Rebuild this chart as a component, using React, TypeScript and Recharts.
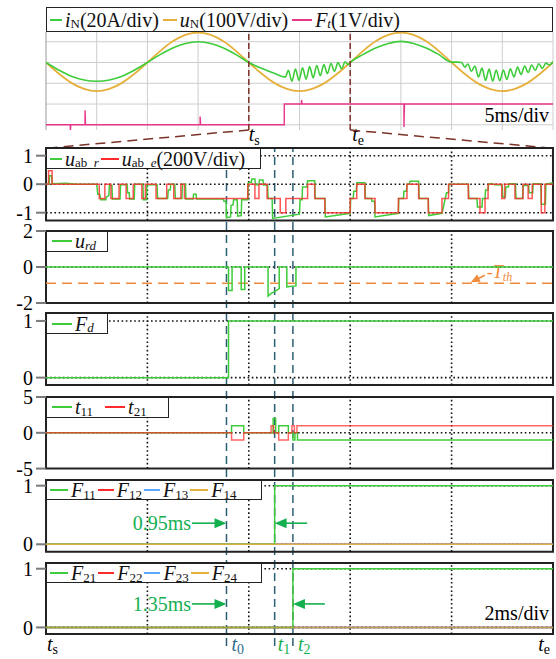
import React from 'react'
import { LineChart, Line, XAxis, YAxis, ReferenceLine, ReferenceArea } from 'recharts'

const SERIF = '"Liberation Serif", "Times New Roman", Times, serif'
const W = 556
const AXIS_W = 46
const RIGHT = 3

const GREEN = '#3fcc3a'
const RED = '#ff2a2a'
const BLUE = '#5aa8ff'
const GOLD = '#e6b03c'
const PINK = '#e8368a'
const TH_ORANGE = '#f08a3c'
const ARROW_GREEN = '#14b050'
const MARK_BLUE = '#2d5f74'
const MAROON = '#7a3328'

type Pt = [number, number]
const rows = (pts: Pt[]) => pts.map(([t, v]) => ({ t, v }))

// ---------- overview scope trace (ms, divisions) ----------
const SCOPE_GRID_T = [0, 5, 10, 15, 20, 25, 30, 35, 40, 45, 50]
const SCOPE_GRID_V = [1, 0, -1, -2, -3]
const SCOPE_DOMAIN: [number, number] = [-3.25, 1.47]
const TS = 20
const TE = 30
const ZOOM_Y = -4.13 // top edge of the zoomed panels, in overview divisions

const uN: Pt[] = [
  [0, 0], [1.25, -0.53], [2.5, -0.98], [3.75, -1.27], [5, -1.38], [6.25, -1.27], [7.5, -0.98], [8.75, -0.53],
  [10, 0], [11.25, 0.55], [12.5, 1.02], [13.75, 1.33], [15, 1.44], [16.25, 1.33], [17.5, 1.02], [18.75, 0.55],
  [20, 0], [21.25, -0.53], [22.5, -0.98], [23.75, -1.27], [25, -1.38], [26.25, -1.27], [27.5, -0.98], [28.75, -0.53],
  [30, 0], [31.25, 0.55], [32.5, 1.02], [33.75, 1.33], [35, 1.44], [36.25, 1.33], [37.5, 1.02], [38.75, 0.55],
  [40, 0], [41.25, -0.53], [42.5, -0.98], [43.75, -1.27], [45, -1.38], [46.25, -1.27], [47.5, -0.98], [48.75, -0.53],
  [50, 0],
]

const iN: Pt[] = [
  [0, 0], [1.25, -0.36], [2.5, -0.66], [3.75, -0.84], [5, -0.9], [6.25, -0.84], [7.5, -0.66], [8.75, -0.36],
  [10, 0], [11.25, 0.38], [12.5, 0.7], [13.75, 0.92], [15, 1.0], [16.25, 0.92], [17.5, 0.7], [18.75, 0.38],
  [20, 0], [21.25, -0.28], [22.5, -0.52], [23.6, -0.7],
  [23.9, -0.38], [24.25, -0.9], [24.6, -0.32], [24.95, -0.86], [25.3, -0.25], [25.65, -0.8], [26.0, -0.2],
  [26.35, -0.74], [26.7, -0.14], [27.05, -0.64], [27.4, -0.1], [27.75, -0.54], [28.1, -0.05], [28.45, -0.42],
  [28.8, 0.0], [29.15, -0.3], [29.5, 0.03], [29.8, -0.1], [30, 0],
  [31.25, 0.38], [32.5, 0.7], [33.75, 0.92], [35, 1.02], [36.25, 0.92], [37.5, 0.7], [38.75, 0.38],
  [40, 0.02], [40.6, 0.02], [41, 0],
  [41.3, -0.22], [41.6, -0.07], [41.95, -0.42], [42.3, -0.17], [42.65, -0.7], [43.0, -0.27], [43.35, -0.86],
  [43.7, -0.32], [44.05, -0.9], [44.4, -0.36], [44.75, -0.88], [45.1, -0.36], [45.45, -0.82], [45.8, -0.3],
  [46.15, -0.7], [46.5, -0.22], [46.85, -0.58], [47.2, -0.17], [47.55, -0.48], [47.9, -0.12], [48.25, -0.38],
  [48.6, -0.06], [48.95, -0.28], [49.3, -0.03], [49.65, -0.12], [50, 0.05],
]

const Ft: Pt[] = [
  [0, -3], [2.4, -3], [2.4, -3.3], [2.45, -3], [3.85, -3], [3.85, -2.3], [3.9, -3], [15.2, -3], [15.2, -2.6],
  [15.25, -3], [23.5, -3], [23.5, -2], [25.2, -2], [25.2, -1.8], [25.25, -2], [35.3, -2], [35.3, -3.1],
  [35.35, -2], [50, -2],
]

// ---------- zoomed panels (ms from ts) ----------
const GRID_T = [2, 4, 6, 8]
const T0 = 3.56
const T1 = 4.51
const T2 = 4.87

const uabE: Pt[] = [
  [0, 0], [0.05, 0.47], [0.12, 0], [1.05, -0.5], [1.16, 0], [1.28, -0.5], [1.44, 0], [1.58, -0.5], [1.72, 0],
  [1.89, -0.5], [1.96, 0], [2.17, -0.5], [2.38, 0], [2.52, -0.5], [2.66, 0], [2.73, -0.5], [3.98, 0],
  [4.12, -0.5], [4.2, 0], [4.36, -0.5], [4.62, -1], [4.73, -0.5], [5.16, 0], [5.3, -0.5], [5.5, -1],
  [6.0, -0.5], [6.13, 0], [6.29, -0.5], [6.49, -1], [6.95, -0.5], [7.12, 0], [7.35, -0.5], [7.54, -1],
  [7.81, -0.5], [7.94, 0], [8.33, -0.5], [8.56, -1], [8.66, -0.5], [8.72, 0], [8.99, -0.5], [9.05, 0],
  [9.25, -0.5], [9.41, 0], [9.51, -0.5], [9.59, 0], [9.77, -1], [9.84, 0], [10, 0],
]

const uabR: Pt[] = [
  [0, 0], [0.06, 0], [0.07, 0.3], [0.11, 0.3], [0.12, 0.02], [0.4, 0.03], [0.6, 0], [1.0, 0], [1.02, -0.35],
  [1.06, -0.35], [1.08, -0.55], [1.18, -0.55], [1.19, -0.45], [1.24, -0.4], [1.25, -0.05], [1.3, -0.05],
  [1.31, -0.52], [1.46, -0.52], [1.47, -0.02], [1.6, -0.02], [1.61, -0.3], [1.64, -0.3], [1.65, -0.52],
  [1.74, -0.52], [1.75, 0], [1.91, 0], [1.92, -0.55], [1.98, -0.55], [1.99, -0.02], [2.19, -0.02], [2.2, -0.5],
  [2.4, -0.5], [2.41, -0.2], [2.45, -0.2], [2.46, 0], [2.54, 0], [2.55, -0.5], [2.68, -0.5], [2.69, 0],
  [2.75, 0], [2.76, -0.52], [2.9, -0.52], [2.91, -0.35], [2.96, -0.35], [2.97, -0.52], [3.5, -0.52],
  [3.51, -0.6], [3.55, -0.6], [3.56, -1.18], [3.64, -1.15], [3.65, -0.75], [3.69, -0.72], [3.7, -0.55],
  [3.77, -0.55], [3.78, -1.12], [3.85, -1.1], [3.86, -0.55], [3.98, -0.55], [3.99, 0.06], [4.05, 0.06],
  [4.06, 0.18], [4.12, 0.18], [4.13, -0.02], [4.2, -0.02], [4.21, 0.15], [4.28, 0.15], [4.29, -0.03],
  [4.37, -0.03], [4.38, -0.5], [4.46, -0.5], [4.47, -1.2], [5.0, -1.05], [5.01, -0.55], [5.05, -0.55],
  [5.06, -0.1], [5.15, -0.1], [5.16, 0.12], [5.3, 0.12], [5.31, -0.5], [5.5, -0.5], [5.51, -1.15],
  [6.0, -1.02], [6.01, -0.5], [6.06, -0.5], [6.07, -0.25], [6.12, -0.25], [6.13, 0.05], [6.29, 0.05],
  [6.3, -0.5], [6.42, -0.5], [6.43, -0.6], [6.48, -0.6], [6.49, -1.15], [6.95, -1.02], [6.96, -0.5],
  [7.05, -0.5], [7.06, -0.25], [7.11, -0.25], [7.12, 0], [7.17, 0], [7.18, 0.1], [7.35, 0.1], [7.36, -0.5],
  [7.54, -0.5], [7.55, -1.1], [7.81, -1.02], [7.82, -0.95], [7.9, -0.3], [7.94, -0.3], [7.95, 0], [8.33, 0],
  [8.34, -0.5], [8.5, -0.5], [8.51, -0.8], [8.6, -0.8], [8.61, -0.5], [8.66, -0.5], [8.67, -0.2], [8.72, -0.2],
  [8.73, 0], [8.78, 0.02], [8.85, -0.02], [9.0, -0.03], [9.01, -0.45], [9.06, -0.45], [9.07, -0.1],
  [9.12, -0.1], [9.13, 0.02], [9.26, 0.02], [9.27, -0.5], [9.4, -0.5], [9.41, -0.05], [9.52, -0.05],
  [9.53, -0.3], [9.6, -0.3], [9.61, 0.02], [9.76, 0.02], [9.77, -0.7], [9.85, -0.7], [9.86, 0], [9.95, 0.03],
  [10, 0.05],
]

const urd: Pt[] = [
  [0, 0], [3.6, 0], [3.6, -1.3], [3.67, -1.3], [3.67, 0], [3.85, 0], [3.85, -1.25], [3.92, -1.25], [3.92, 0],
  [4.38, 0], [4.38, -1.62], [4.45, -1.45], [4.55, -1.3], [4.57, -1.25], [4.6, -1.2], [4.6, 0], [4.75, 0],
  [4.75, -1.1], [4.93, -1.05], [4.93, 0], [10, 0],
]
const T_TH = -0.9
const TH_ARROW_T = 8.36

const Fd: Pt[] = [[0, 0], [3.6, 0], [3.6, 1], [10, 1]]

const t11: Pt[] = [
  [0, 0], [3.66, 0], [3.66, 1], [3.9, 1], [3.9, 0], [4.48, 0], [4.48, 2], [4.53, 2], [4.53, 0], [4.59, 0],
  [4.59, 1], [4.78, 1], [4.78, 0], [4.87, 0], [4.87, -1], [4.91, -1], [4.91, 0], [4.96, 0], [4.96, -1], [10, -1],
]
const t21: Pt[] = [
  [0, 0], [3.66, 0], [3.66, -1], [3.9, -1], [3.9, 0], [4.44, 0], [4.44, 1], [4.49, 1], [4.49, 0], [4.59, 0],
  [4.59, -1], [4.78, -1], [4.78, 0], [4.85, 0], [4.85, 1], [4.9, 1], [4.9, 0], [4.95, 0], [4.95, 1], [10, 1],
]

const F11: Pt[] = [[0, 0], [T1, 0], [T1, 1], [10, 1]]
const F21: Pt[] = [[0, 0], [T2, 0], [T2, 1], [10, 1]]
const FLAT: Pt[] = [[0, 0], [10, 0]]

// delay annotations
const DELAY1 = { from: 2.88, to: T0, back: 5.15, tip: T1, level: 0.36, text: '0.95ms' }
const DELAY2 = { from: 2.88, to: T0, back: 5.5, tip: T2, level: 0.4, text: '1.35ms' }

const MARKS = [
  { t: 0, level: 0, sub: 's', color: '#000', line: false, dx: 1, anchor: 'start' },
  { t: T0, level: 0, sub: '0', color: '#2d6b8a', line: true, dx: 5, anchor: 'start' },
  { t: T1, level: 0, sub: '1', color: ARROW_GREEN, line: true, dx: 3, anchor: 'start' },
  { t: T2, level: 0, sub: '2', color: ARROW_GREEN, line: true, dx: 5, anchor: 'start' },
  { t: 10, level: 0, sub: 'e', color: '#000', line: false, dx: -3, anchor: 'end' },
]

// ---------- helpers ----------
function headPoints(x1: number, y1: number, x2: number, y2: number, len: number, half: number) {
  const dx = x2 - x1
  const dy = y2 - y1
  const L = Math.hypot(dx, dy) || 1
  const ux = dx / L
  const uy = dy / L
  const bx = x2 - ux * len
  const by = y2 - uy * len
  return `${x2},${y2} ${bx - uy * half},${by + ux * half} ${bx + uy * half},${by - ux * half}`
}

const tLabel = (sub: string, color: string, dx: number, dy: number, anchor: string, subDy = 4) => (p: any) => {
  const vb = p.viewBox
  const x = vb.x + dx
  const y = vb.y + vb.height + dy
  return (
    <text x={x} y={y} textAnchor={anchor} fill={color} fontFamily={SERIF} fontSize={20}>
      <tspan fontStyle="italic">t</tspan>
      <tspan fontSize={14} dy={subDy}>{sub}</tspan>
    </text>
  )
}

const thLabel = (p: any) => {
  const { x, y, width } = p.viewBox
  const tx = x + (width * TH_ARROW_T) / 10
  const x1 = tx + 15
  const y1 = y - 8
  const x2 = tx + 1
  const y2 = y - 1
  return (
    <g>
      <line x1={x1} y1={y1} x2={x2 + 4} y2={y2 - 2} stroke={TH_ORANGE} strokeWidth={1.6} />
      <polygon points={headPoints(x1, y1, x2, y2, 9, 4)} fill={TH_ORANGE} />
      <text x={tx + 17} y={y - 5} fill={TH_ORANGE} fontFamily={SERIF} fontSize={18} fontStyle="italic">
        -T<tspan fontSize={12} dy={3}>th</tspan>
      </text>
    </g>
  )
}

const arrowShape = (text?: string) => (p: any) => {
  const { x1, y1, x2, y2 } = p
  const dir = x2 > x1 ? 1 : -1
  return (
    <g>
      <line x1={x1} y1={y1} x2={x2 - dir * 6} y2={y2} stroke={ARROW_GREEN} strokeWidth={1.6} />
      <polygon points={headPoints(x1, y1, x2, y2, 12, 5)} fill={ARROW_GREEN} />
      {text && (
        <text x={x1 - 1} y={y1} dy="0.34em" textAnchor="end" fill={ARROW_GREEN} fontFamily={SERIF} fontSize={20}>
          {text}
        </text>
      )}
    </g>
  )
}

const Sub = ({ children }: { children: React.ReactNode }) => (
  <span style={{ fontSize: 13, position: 'relative', top: 4 }}>{children}</span>
)
const I = ({ children }: { children: React.ReactNode }) => <span style={{ fontStyle: 'italic' }}>{children}</span>

function Swatch({ color, w, ml = 0 }: { color: string; w: number; ml?: number }) {
  return (
    <span
      style={{ display: 'inline-block', width: w, height: 2, background: color, marginLeft: ml, marginRight: 3, flexShrink: 0 }}
    />
  )
}

function LegendBox({ left, top, width, height, children }: any) {
  return (
    <div
      style={{
        position: 'absolute', left, top, width, height, boxSizing: 'border-box', border: '1.5px solid #222',
        background: '#fff', display: 'flex', alignItems: 'center', fontFamily: SERIF, fontSize: 20,
        lineHeight: 1, whiteSpace: 'nowrap', paddingLeft: 3, color: '#111',
      }}
    >
      {children}
    </div>
  )
}

// ---------- components ----------
function Overview() {
  return (
    <div style={{ position: 'absolute', left: 0, top: 0 }}>
      <LineChart width={W} height={150} margin={{ top: 32, right: RIGHT, bottom: 20, left: AXIS_W }}>
        <XAxis dataKey="t" type="number" domain={[0, 50]} hide allowDataOverflow />
        <YAxis type="number" domain={SCOPE_DOMAIN} hide allowDataOverflow />
        {SCOPE_GRID_V.map((v) => (
          <ReferenceLine key={'h' + v} y={v} stroke="#cdcdcd" strokeWidth={1} />
        ))}
        {SCOPE_GRID_T.map((t) => (
          <ReferenceLine key={'v' + t} x={t} stroke={t === 0 ? '#9a9a9a' : '#cdcdcd'} strokeWidth={1} />
        ))}
        <Line data={rows(Ft)} dataKey="v" type="linear" stroke={PINK} strokeWidth={1.4} dot={false} isAnimationActive={false} />
        <Line data={rows(uN)} dataKey="v" type="monotone" stroke={GOLD} strokeWidth={1.8} dot={false} isAnimationActive={false} />
        <Line data={rows(iN)} dataKey="v" type="monotone" stroke={GREEN} strokeWidth={1.6} dot={false} isAnimationActive={false} />
        <ReferenceLine x={TS} stroke={MAROON} strokeDasharray="6 3" strokeWidth={1.5} label={tLabel('s', '#000', 0, 11, 'start')} />
        <ReferenceLine x={TE} stroke={MAROON} strokeDasharray="6 3" strokeWidth={1.5} label={tLabel('e', '#000', 2, 11, 'start')} />
        <ReferenceLine
          segment={[{ x: TS, y: SCOPE_DOMAIN[0] }, { x: 0, y: ZOOM_Y }]}
          ifOverflow="visible" stroke={MAROON} strokeDasharray="10 6" strokeWidth={1.5}
        />
        <ReferenceLine
          segment={[{ x: TE, y: SCOPE_DOMAIN[0] }, { x: 50, y: ZOOM_Y }]}
          ifOverflow="visible" stroke={MAROON} strokeDasharray="10 6" strokeWidth={1.5}
        />
      </LineChart>
    </div>
  )
}

type PanelProps = {
  top: number
  height: number
  domain: [number, number]
  ticks: number[]
  dotted: number[]
  children?: React.ReactNode
}

function Panel({ top, height, domain, ticks, dotted, children }: PanelProps) {
  const M = 14
  return (
    <div style={{ position: 'absolute', left: 0, top: top - M }}>
      <LineChart width={W} height={height + 2 * M} margin={{ top: M, right: RIGHT, bottom: M, left: 0 }}>
        <XAxis dataKey="t" type="number" domain={[0, 10]} hide allowDataOverflow />
        <YAxis
          type="number" domain={domain} ticks={ticks} interval={0} width={AXIS_W} allowDataOverflow
          axisLine={false} tickSize={10} tickMargin={3}
          tickLine={{ stroke: '#7a7a7a', strokeWidth: 2 }}
          tick={{ fill: '#000', fontSize: 20, fontFamily: SERIF }}
        />
        {GRID_T.map((t) => (
          <ReferenceLine key={'g' + t} x={t} stroke="#111" strokeWidth={1.6} strokeDasharray="1.6 2.6" />
        ))}
        {dotted.map((v) => (
          <ReferenceLine key={'d' + v} y={v} stroke="#111" strokeWidth={1.6} strokeDasharray="1.6 2.6" />
        ))}
        {children}
        <ReferenceArea x1={0} x2={10} y1={domain[0]} y2={domain[1]} fill="none" stroke="#222" strokeWidth={2} ifOverflow="visible" />
      </LineChart>
    </div>
  )
}

function Markers() {
  return (
    <div style={{ position: 'absolute', left: 0, top: 0 }}>
      <LineChart width={W} height={659} margin={{ top: 148, right: RIGHT, bottom: 13, left: AXIS_W }} data={MARKS}>
        <XAxis dataKey="t" type="number" domain={[0, 10]} hide allowDataOverflow />
        <YAxis type="number" domain={[0, 1]} hide allowDataOverflow />
        <Line dataKey="level" stroke="none" dot={false} activeDot={false} isAnimationActive={false} />
        {MARKS.map((m) => (
          <ReferenceLine
            key={m.sub} x={m.t} stroke={m.line ? MARK_BLUE : 'none'} strokeWidth={1.5} strokeDasharray="8 5"
            label={tLabel(m.sub, m.color, m.dx, 5, m.anchor, 3)}
          />
        ))}
      </LineChart>
    </div>
  )
}

const line = (pts: Pt[], color: string, opacity = 1, type: any = 'linear') => (
  <Line
    data={rows(pts)} dataKey="v" type={type} stroke={color} strokeOpacity={opacity} strokeWidth={1.5}
    dot={false} isAnimationActive={false}
  />
)

export default function App() {
  return (
    <div style={{ position: 'absolute', left: 0, top: 0, width: W, height: 659, background: '#fff', overflow: 'hidden' }}>
      <Markers />
      <Overview />

      <Panel top={148} height={72.4} domain={[-1.27, 1.27]} ticks={[-1, 0, 1]} dotted={[1, 0, -1]}>
        {line(uabR, GREEN)}
        {line(uabE, RED, 0.8, 'stepAfter')}
      </Panel>
      <Panel top={230.7} height={72} domain={[-2, 2]} ticks={[-2, 0, 2]} dotted={[0]}>
        <ReferenceLine y={T_TH} stroke={TH_ORANGE} strokeWidth={1.5} strokeDasharray="10 6" label={thLabel} />
        {line(urd, GREEN)}
      </Panel>
      <Panel top={313} height={72} domain={[-0.13, 1.14]} ticks={[0, 1]} dotted={[1, 0]}>
        {line(Fd, GREEN)}
      </Panel>
      <Panel top={396.7} height={71.6} domain={[-5, 5]} ticks={[-5, 0, 5]} dotted={[0]}>
        {line(t11, GREEN)}
        {line(t21, RED, 0.72)}
      </Panel>
      <Panel top={480} height={71.7} domain={[-0.126, 1.097]} ticks={[0, 1]} dotted={[1, 0]}>
        {line(FLAT, RED)}
        {line(FLAT, BLUE)}
        {line(F11, GREEN)}
        {line(FLAT, GOLD, 0.9)}
        <ReferenceLine segment={[{ x: DELAY1.from, y: DELAY1.level }, { x: DELAY1.to, y: DELAY1.level }]} shape={arrowShape(DELAY1.text)} />
        <ReferenceLine segment={[{ x: DELAY1.back, y: DELAY1.level }, { x: DELAY1.tip, y: DELAY1.level }]} shape={arrowShape()} />
      </Panel>
      <Panel top={563.3} height={71} domain={[-0.112, 1.097]} ticks={[0, 1]} dotted={[1, 0]}>
        {line(FLAT, RED)}
        {line(FLAT, BLUE)}
        {line(F21, GREEN)}
        {line(FLAT, '#c89a30', 0.8)}
        <ReferenceLine segment={[{ x: DELAY2.from, y: DELAY2.level }, { x: DELAY2.to, y: DELAY2.level }]} shape={arrowShape(DELAY2.text)} />
        <ReferenceLine segment={[{ x: DELAY2.back, y: DELAY2.level }, { x: DELAY2.tip, y: DELAY2.level }]} shape={arrowShape()} />
      </Panel>

      {/* legends */}
      <LegendBox left={46} top={7} width={507} height={25}>
        <Swatch color={GREEN} w={12} />
        <I>i</I><Sub>N</Sub>(20A/div)
        <Swatch color={GOLD} w={14} ml={4} />
        <I>u</I><Sub>N</Sub>(100V/div)
        <Swatch color={PINK} w={20} ml={4} />
        <I>F</I><Sub><I>t</I></Sub>(1V/div)
      </LegendBox>
      <LegendBox left={46} top={148} width={215} height={21}>
        <Swatch color={GREEN} w={12} />
        <I>u</I><Sub>ab_<I>r</I></Sub>
        <Swatch color={RED} w={18} ml={2} />
        <I>u</I><Sub>ab_<I>e</I></Sub>(200V/div)
      </LegendBox>
      <LegendBox left={46} top={230.7} width={62} height={21}>
        <Swatch color={GREEN} w={20} ml={2} />
        <I>u</I><Sub><I>rd</I></Sub>
      </LegendBox>
      <LegendBox left={46} top={313} width={62} height={21}>
        <Swatch color={GREEN} w={20} ml={2} />
        <I>F</I><Sub><I>d</I></Sub>
      </LegendBox>
      <LegendBox left={46} top={396.7} width={123} height={21}>
        <Swatch color={GREEN} w={20} ml={2} />
        <I>t</I><Sub>11</Sub>
        <Swatch color={RED} w={20} ml={12} />
        <I>t</I><Sub>21</Sub>
      </LegendBox>
      <LegendBox left={46} top={480} width={216} height={20}>
        <Swatch color={GREEN} w={18} />
        <I>F</I><Sub>11</Sub>
        <Swatch color={RED} w={16} ml={2} />
        <I>F</I><Sub>12</Sub>
        <Swatch color={BLUE} w={16} ml={2} />
        <I>F</I><Sub>13</Sub>
        <Swatch color={GOLD} w={18} ml={2} />
        <I>F</I><Sub>14</Sub>
      </LegendBox>
      <LegendBox left={46} top={563.3} width={216} height={20}>
        <Swatch color={GREEN} w={18} />
        <I>F</I><Sub>21</Sub>
        <Swatch color={RED} w={16} ml={2} />
        <I>F</I><Sub>22</Sub>
        <Swatch color={BLUE} w={16} ml={2} />
        <I>F</I><Sub>23</Sub>
        <Swatch color={GOLD} w={18} ml={2} />
        <I>F</I><Sub>24</Sub>
      </LegendBox>

      <div style={{ position: 'absolute', right: 7, top: 104, fontFamily: SERIF, fontSize: 20, color: '#000' }}>5ms/div</div>
      <div style={{ position: 'absolute', right: 7, top: 602, fontFamily: SERIF, fontSize: 20, color: '#000' }}>2ms/div</div>
    </div>
  )
}
